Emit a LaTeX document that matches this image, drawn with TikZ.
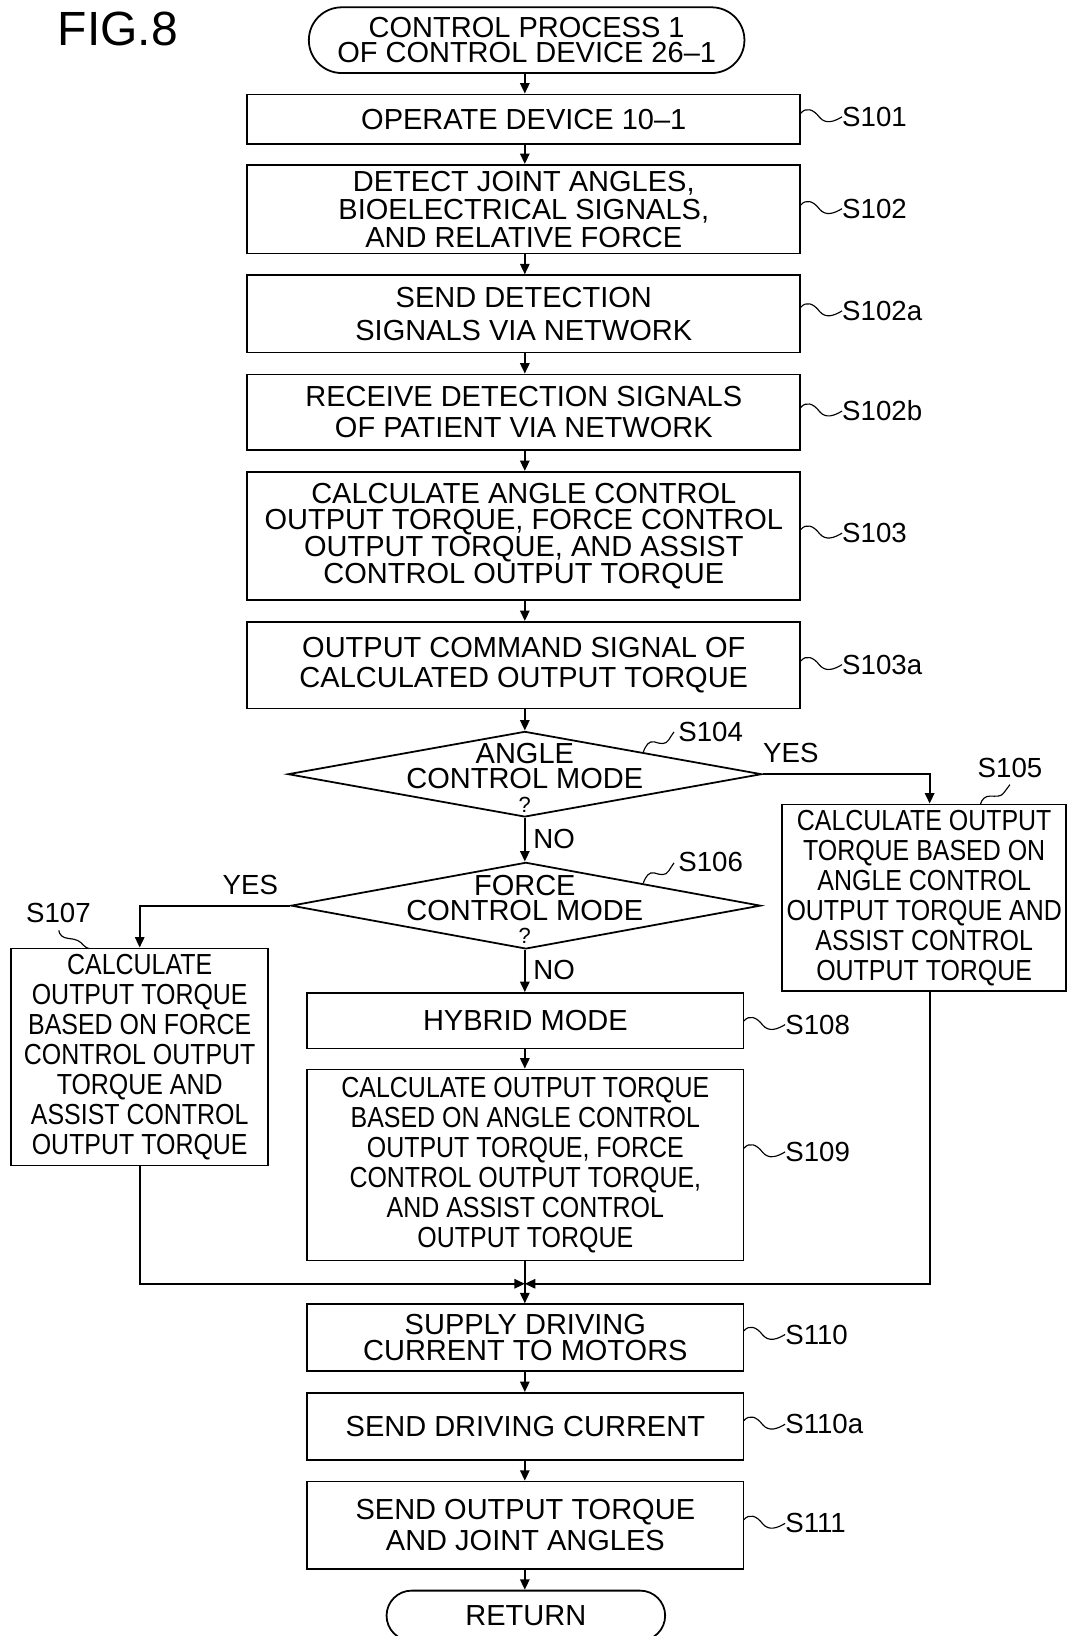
\documentclass[tikz,border=0pt]{standalone}
\usepackage{fontspec}
\setmainfont{Liberation Sans}
\newfontfamily\condfont[FakeStretch=0.86]{Liberation Sans}
\usetikzlibrary{arrows.meta,shapes.geometric,shapes.misc}
\newcommand{\fs}[1]{\fontsize{27.8}{#1}\selectfont}
\newcommand{\cfs}{\condfont\fontsize{27.8}{28.8}\selectfont}
\begin{document}
\begin{tikzpicture}[x=1pt,y=-1pt,
  ln/.style={line width=1.7pt},
  arr/.style={ln,-{Triangle[length=10pt,width=9pt]}},
  box/.style={draw,ln,rectangle,inner sep=0pt,align=center},
  term/.style={draw,ln,rounded rectangle,inner sep=0pt,align=center},
  dia/.style={draw,ln,diamond,inner sep=0pt},
  dtxt/.style={inner sep=0pt,font=\fs{27.8}},
  qm/.style={inner sep=0pt,font=\fontsize{21}{21}\selectfont},
  lbl/.style={inner sep=0pt,font=\fontsize{26.5}{26.5}\selectfont},
  sq/.style={line width=1.1pt}
]
\useasboundingbox (0,0) rectangle (1026,1568);

\node[inner sep=0pt,font=\fontsize{46}{46}\selectfont] (fig) at (113,28) {FIG.8};

% main column
\node[term,minimum width=417.5pt,minimum height=63pt,font=\fs{24.5}] (start) at (504.75,38.5) {CONTROL PROCESS 1\\OF CONTROL DEVICE 26–1};
\node[box,minimum width=530pt,minimum height=47.5pt,font=\fs{26}] (s101) at (502,114.25) {OPERATE DEVICE 10–1};
\node[box,minimum width=530pt,minimum height=85pt,font=\fs{26.8}] (s102) at (502,200.5) {DETECT JOINT ANGLES,\\BIOELECTRICAL SIGNALS,\\AND RELATIVE FORCE};
\node[box,minimum width=530pt,minimum height=74pt,font=\fs{32}] (s102a) at (502,300.75) {SEND DETECTION\\SIGNALS VIA NETWORK};
\node[box,minimum width=530pt,minimum height=72.5pt,font=\fs{29.3}] (s102b) at (502,395.15) {RECEIVE DETECTION SIGNALS\\OF PATIENT VIA NETWORK};
\node[box,minimum width=530pt,minimum height=123pt,font=\fs{25.8}] (s103) at (502,513.75) {CALCULATE ANGLE CONTROL\\OUTPUT TORQUE, FORCE CONTROL\\OUTPUT TORQUE, AND ASSIST\\CONTROL OUTPUT TORQUE};
\node[box,minimum width=530pt,minimum height=83pt,font=\fs{29}] (s103a) at (502,637.5) {OUTPUT COMMAND SIGNAL OF\\CALCULATED OUTPUT TORQUE};

% decisions
\node[dia,minimum width=454pt,minimum height=82pt] (d1) at (503,742) {};
\node[dtxt] (d1a) at (503,722) {ANGLE};
\node[dtxt] (d1b) at (503,746) {CONTROL MODE};
\node[qm] (d1c) at (503,771) {?};
\node[dia,minimum width=450pt,minimum height=83pt] (d2) at (504,868) {};
\node[dtxt] (d2a) at (503,848.5) {FORCE};
\node[dtxt] (d2b) at (503,872.5) {CONTROL MODE};
\node[qm] (d2c) at (503,896.5) {?};

% side branches
\node[box,minimum width=272.5pt,minimum height=179pt,font=\cfs] (s105) at (885.75,860.5) {CALCULATE OUTPUT\\TORQUE BASED ON\\ANGLE CONTROL\\OUTPUT TORQUE AND\\ASSIST CONTROL\\OUTPUT TORQUE};
\node[box,minimum width=246pt,minimum height=208pt,font=\cfs] (s107) at (133.9,1013) {CALCULATE\\OUTPUT TORQUE\\BASED ON FORCE\\CONTROL OUTPUT\\TORQUE AND\\ASSIST CONTROL\\OUTPUT TORQUE};

% lower column
\node[box,minimum width=418pt,minimum height=53.3pt,font=\fs{26}] (s108) at (503.5,978.35) {HYBRID MODE};
\node[box,minimum width=418pt,minimum height=183pt,font=\cfs] (s109) at (503.5,1116.5) {CALCULATE OUTPUT TORQUE\\BASED ON ANGLE CONTROL\\OUTPUT TORQUE, FORCE\\CONTROL OUTPUT TORQUE,\\AND ASSIST CONTROL\\OUTPUT TORQUE};
\node[box,minimum width=418pt,minimum height=64pt,font=\fs{25.6}] (s110) at (503.5,1282) {SUPPLY DRIVING\\CURRENT TO MOTORS};
\node[box,minimum width=418pt,minimum height=64pt,font=\fs{26}] (s110a) at (503.5,1367) {SEND DRIVING CURRENT};
\node[box,minimum width=418pt,minimum height=83.7pt,font=\fs{30}] (s111) at (503.5,1461.85) {SEND OUTPUT TORQUE\\AND JOINT ANGLES};
\node[term,minimum width=267pt,minimum height=48pt,font=\fs{26}] (ret) at (504,1548.5) {RETURN};

% connectors
\draw[arr] (start.south -| 503,0) -- (s101.north -| 503,0);
\draw[arr] (s101.south -| 503,0) -- (s102.north -| 503,0);
\draw[arr] (s102.south -| 503,0) -- (s102a.north -| 503,0);
\draw[arr] (s102a.south -| 503,0) -- (s102b.north -| 503,0);
\draw[arr] (s102b.south -| 503,0) -- (s103.north -| 503,0);
\draw[arr] (s103.south -| 503,0) -- (s103a.north -| 503,0);
\draw[arr] (s103a.south -| 503,0) -- (d1.north);
\draw[arr] (d1.south) -- (d2.north -| d1.south);
\draw[arr] (d1.east) -| ([xshift=5.25pt]s105.north);
\draw[arr] (d2.west) -| (s107.north);
\draw[arr] (d2.south -| d1.south) -- (s108.north -| d1.south);
\draw[arr] (s108.south -| d1.south) -- (s109.north -| d1.south);
\coordinate (m) at (503,1230.4);
\draw[arr] (s107.south) |- (m);
\draw[arr] ([xshift=5.25pt]s105.south) |- (m);
\draw[arr] (s109.south -| m) -- (s110.north -| m);
\draw[arr] (s110.south -| m) -- (s110a.north -| m);
\draw[arr] (s110a.south -| m) -- (s111.north -| m);
\draw[arr] (s111.south -| m) -- (ret.north -| m);

% YES / NO
\node[lbl] (yes1) at (758,722) {YES};
\node[lbl] (yes2) at (240,848.5) {YES};
\node[lbl] (no1) at (531,803.8) {NO};
\node[lbl] (no2) at (531,930) {NO};

% step labels with squiggles
\foreach \nm/\yy/\tx in {l101/112/S101,l102/200/S102,l102a/298/S102a,l102b/394/S102b,l103/511/S103,l103a/637/S103a}{
  \node[lbl,anchor=west] (\nm) at (807,\yy) {\tx};
  \draw[sq] (767.5,\yy-3.5) .. controls (772.5,\yy-9.5) and (779.5,\yy-7.5) .. (785.5,\yy+0.5) .. controls (791.5,\yy+7.5) and (799.5,\yy+4.5) .. (\nm.west);
}
\foreach \nm/\yy/\tx in {l108/982/S108,l109/1104/S109,l110/1279/S110,l110a/1365/S110a,l111/1460/S111}{
  \node[lbl,anchor=west] (\nm) at (752.5,\yy) {\tx};
  \draw[sq] (713,\yy-3.5) .. controls (718,\yy-9.5) and (725,\yy-7.5) .. (731,\yy+0.5) .. controls (737,\yy+7.5) and (745,\yy+4.5) .. (\nm.west);
}
\node[lbl,anchor=west] (l104) at (650,701.5) {S104};
\draw[sq] (616.5,721) .. controls (619,714) and (622,710) .. (627,711) .. controls (633,713) and (638,714) .. (641,709) .. controls (643,706) and (644,704) .. (646,701.5);
\node[lbl,anchor=west] (l106) at (650,826) {S106};
\draw[sq] (616.5,846.6) .. controls (619,839.6) and (622,835.6) .. (627,836.6) .. controls (633,838.6) and (638,839.6) .. (641,834.6) .. controls (643,831.6) and (644,829.6) .. (646,827);
\node[lbl] (l105) at (968,736) {S105};
\draw[sq] (939.6,771) .. controls (941,766) and (944,763) .. (949,763) .. controls (955,763) and (959,764) .. (962,760) .. controls (964,757) and (966,755) .. (968,752);
\node[lbl] (l107) at (56,875) {S107};
\draw[sq] (56.3,891.7) .. controls (57,896) and (60,899) .. (66,899.5) .. controls (73,900) and (77,902) .. (80,906) .. controls (82,908) and (84,909) .. (85.6,909.2);
\end{tikzpicture}
\end{document}
